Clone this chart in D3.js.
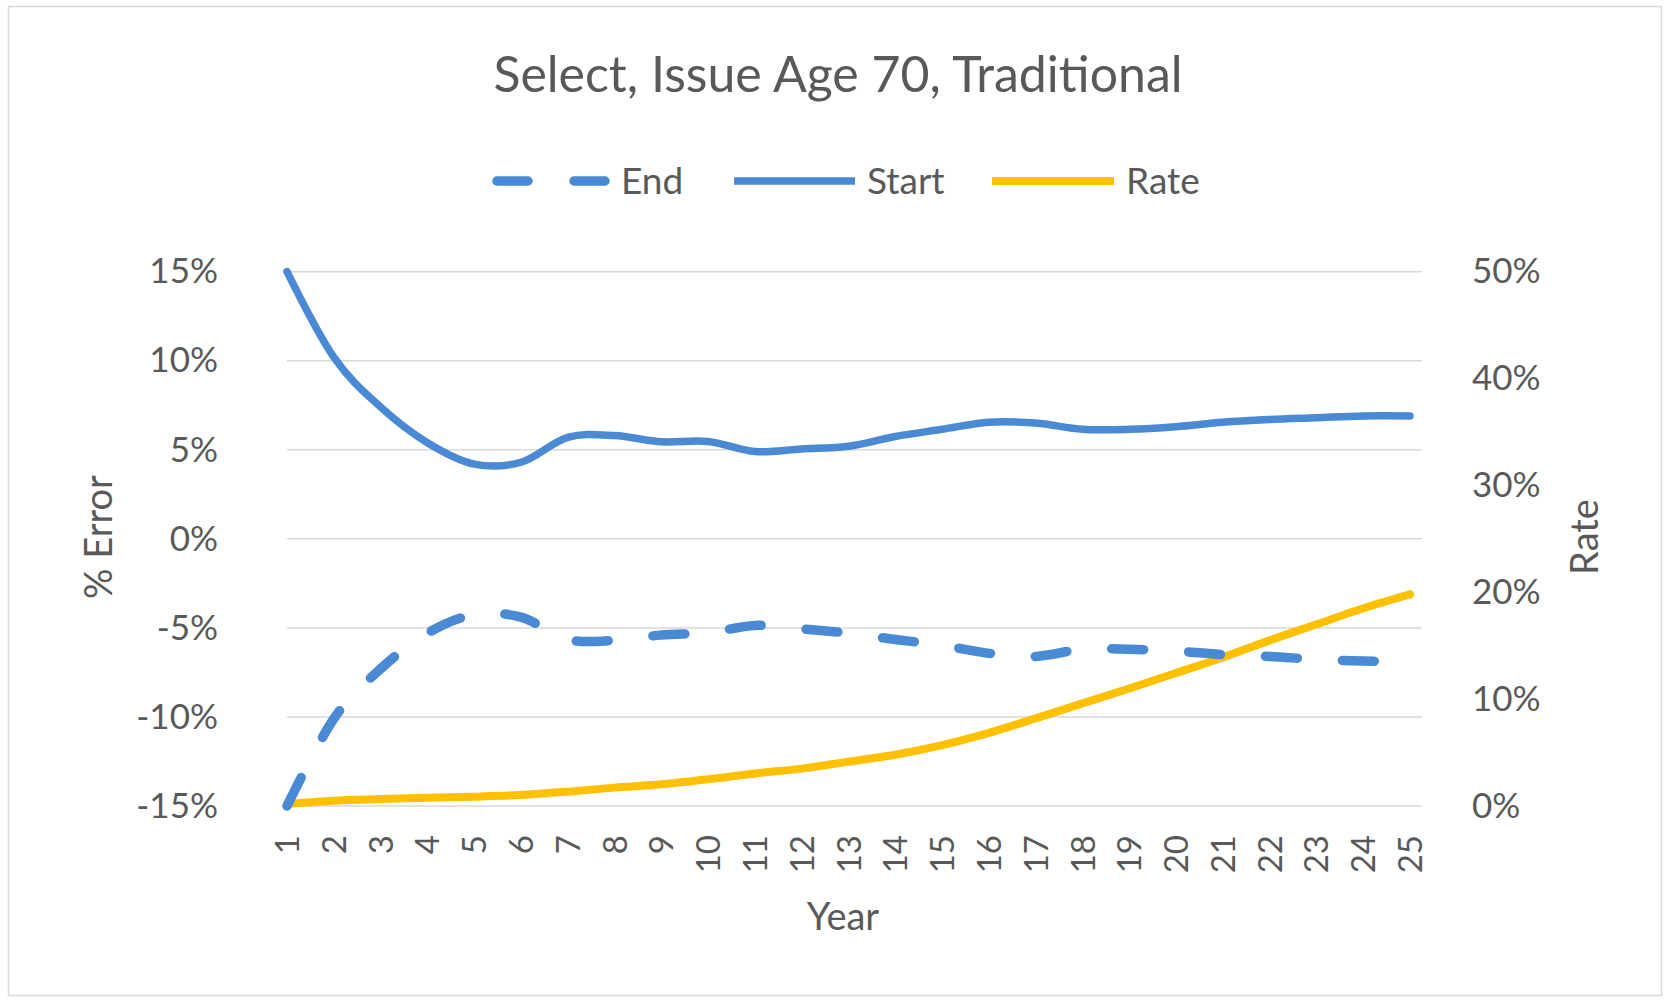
<!DOCTYPE html>
<html>
<head>
<meta charset="utf-8">
<script src="https://cdn.jsdelivr.net/npm/d3@7"></script>
<style>
  html, body { margin: 0; padding: 0; background: #fff; }
  svg { display: block; }
  text { font-family: Lato, "Noto Sans", sans-serif; fill: #595959; }
</style>
</head>
<body>
<svg id="chart" width="1669" height="1000"></svg>
<script>
// Policy years
const years = d3.range(1, 26);

// % error series (left axis)
const endValues = [-0.150, -0.101, -0.073, -0.053, -0.0425, -0.044, -0.0565, -0.057, -0.054, -0.0527,
                   -0.0486, -0.0505, -0.053, -0.0565, -0.0598, -0.0643, -0.066, -0.062, -0.062, -0.063,
                   -0.065, -0.066, -0.0677, -0.0686, -0.069];
const startValues = [0.150, 0.102, 0.074, 0.054, 0.042, 0.043, 0.057, 0.058, 0.0545, 0.0547,
                     0.049, 0.0505, 0.052, 0.0575, 0.0615, 0.0655, 0.065, 0.0615, 0.0615, 0.063,
                     0.0655, 0.067, 0.068, 0.069, 0.069];
// Rate series (right axis)
const rateValues = [0.002, 0.005, 0.0065, 0.0078, 0.0087, 0.0103, 0.0134, 0.0172, 0.0203, 0.025,
                    0.0305, 0.035, 0.0415, 0.048, 0.057, 0.0685, 0.082, 0.096, 0.110, 0.1245,
                    0.139, 0.155, 0.170, 0.185, 0.198];

const leftTicks = [-0.15, -0.10, -0.05, 0, 0.05, 0.10, 0.15];
const rightTicks = [0, 0.1, 0.2, 0.3, 0.4, 0.5];

const titleText = "Select, Issue Age 70, Traditional";
const seriesNames = ["End", "Start", "Rate"];

const BLUE = "#4a89d3";
const GOLD = "#ffc000";

const svg = d3.select("#chart");

// outer frame
svg.append("rect")
  .attr("x", 8.5).attr("y", 6.5).attr("width", 1653).attr("height", 989)
  .attr("fill", "none").attr("stroke", "#d9d9d9").attr("stroke-width", 1.5);

const plotTop = 271.7, plotBottom = 806, plotLeft = 287, plotRight = 1422;

const x = d3.scalePoint().domain(years).range([287, 1410]);
const yL = d3.scaleLinear().domain([-0.15, 0.15]).range([plotBottom, plotTop]);
const yR = d3.scaleLinear().domain([0, 0.5]).range([plotBottom, plotTop]);

// gridlines
svg.append("g").selectAll("line").data(leftTicks).join("line")
  .attr("x1", plotLeft).attr("x2", plotRight)
  .attr("y1", d => yL(d)).attr("y2", d => yL(d))
  .attr("stroke", "#d9d9d9").attr("stroke-width", 1.5);

// percent labels with a plain hyphen for negatives
const pct = d => d3.format(".0%")(d).replace("\u2212", "-");

// left axis
const leftAxis = svg.append("g").attr("transform", `translate(${plotLeft},0)`)
  .call(d3.axisLeft(yL).tickValues(leftTicks).tickFormat(pct).tickSize(0).tickPadding(69));
leftAxis.select(".domain").remove();
leftAxis.selectAll("text").style("font-size", "35px").attr("fill", "#595959")
  .style("font-family", "Lato, sans-serif");

// right axis
const rightAxis = svg.append("g").attr("transform", `translate(${plotRight},0)`)
  .call(d3.axisRight(yR).tickValues(rightTicks).tickFormat(pct).tickSize(0).tickPadding(50));
rightAxis.select(".domain").remove();
rightAxis.selectAll("text").style("font-size", "35px").attr("fill", "#595959")
  .style("font-family", "Lato, sans-serif");

// bottom axis, labels rotated
const bottomAxis = svg.append("g").attr("transform", `translate(0,${plotBottom})`)
  .call(d3.axisBottom(x).tickSize(0).tickPadding(0));
bottomAxis.select(".domain").remove();
bottomAxis.selectAll("text")
  .style("font-size", "33px").attr("fill", "#595959").style("font-family", "Lato, sans-serif")
  .attr("text-anchor", "end")
  .attr("transform", "translate(0,29) rotate(-90)")
  .attr("x", 0).attr("y", 0).attr("dy", "0.35em");

// series lines
const curve = d3.curveCatmullRom.alpha(0);
const lineL = d3.line().x((d, i) => x(years[i])).y(d => yL(d)).curve(curve);
const lineR = d3.line().x((d, i) => x(years[i])).y(d => yR(d)).curve(curve);

svg.append("path").datum(rateValues).attr("d", lineR)
  .attr("fill", "none").attr("stroke", GOLD).attr("stroke-width", 8).attr("stroke-linecap", "round");
svg.append("path").datum(startValues).attr("d", lineL)
  .attr("fill", "none").attr("stroke", BLUE).attr("stroke-width", 7.5).attr("stroke-linecap", "round");
svg.append("path").datum(endValues).attr("d", lineL)
  .attr("fill", "none").attr("stroke", BLUE).attr("stroke-width", 9.5)
  .attr("stroke-linecap", "round").attr("stroke-dasharray", "32,45");

// title
svg.append("text").attr("x", 838).attr("y", 92).attr("text-anchor", "middle")
  .style("font-size", "50px").text(titleText);

// legend
const legendY = 181;
const legendItems = [
  { name: seriesNames[0], x0: 492, x1: 609, color: BLUE, width: 9.5, dash: "31,46" },
  { name: seriesNames[1], x0: 734, x1: 855, color: BLUE, width: 7.5, dash: null },
  { name: seriesNames[2], x0: 992, x1: 1114, color: GOLD, width: 8, dash: null }
];
const lg = svg.append("g").selectAll("g").data(legendItems).join("g");
lg.append("line")
  .attr("x1", d => d.x0 + (d.dash ? 5 : 0)).attr("x2", d => d.x1)
  .attr("y1", legendY).attr("y2", legendY)
  .attr("stroke", d => d.color).attr("stroke-width", d => d.width)
  .attr("stroke-linecap", d => d.dash ? "round" : "butt")
  .attr("stroke-dasharray", d => d.dash);
lg.append("text").attr("x", d => d.x1 + 12).attr("y", legendY).attr("dy", "0.36em")
  .style("font-size", "37px").text(d => d.name);

// axis titles
svg.append("text").attr("x", 843).attr("y", 930).attr("text-anchor", "middle")
  .style("font-size", "38px").text("Year");
svg.append("text").attr("transform", "translate(112,537) rotate(-90)").attr("text-anchor", "middle")
  .style("font-size", "38px").text("% Error");
svg.append("text").attr("transform", "translate(1598,537) rotate(-90)").attr("text-anchor", "middle")
  .style("font-size", "38px").text("Rate");
</script>
</body>
</html>
